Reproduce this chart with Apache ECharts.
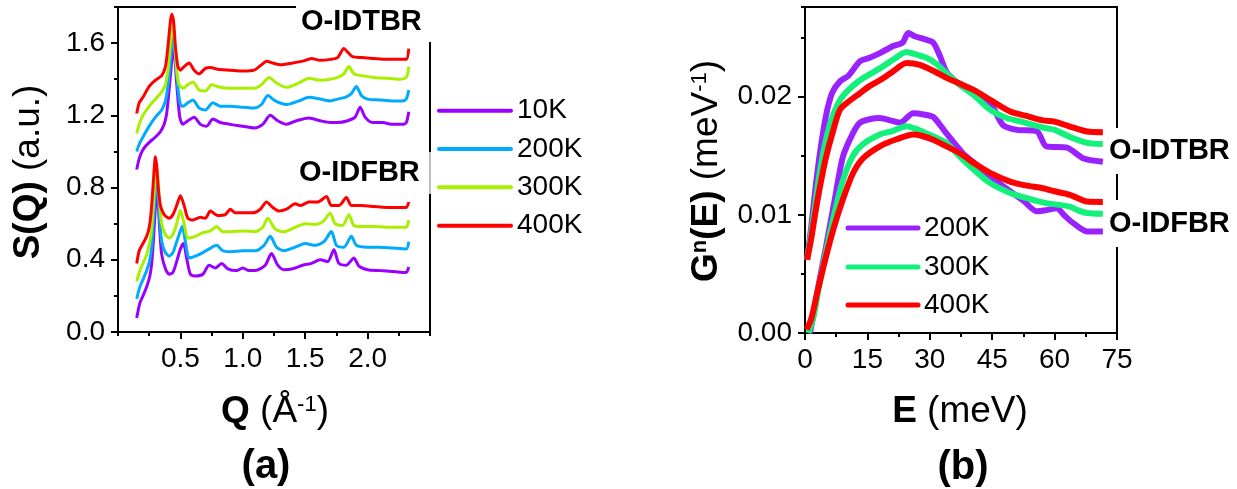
<!DOCTYPE html>
<html><head><meta charset="utf-8">
<script src="https://cdn.jsdelivr.net/npm/echarts@6/dist/echarts.min.js"></script>
<style>html,body{margin:0;padding:0;background:#fff}#c{width:1237px;height:489px}</style>
</head><body><div id="c"></div>
<script>
// ---------- Panel (a): S(Q) vs Q ----------
const tbrLegend = ['10K', '200K', '300K', '400K'];
const tbr10K = [[0.15,0.90],[0.17,0.96],[0.20,1.01],[0.25,1.05],[0.30,1.08],[0.34,1.11],[0.37,1.15],[0.39,1.21],[0.415,1.38],[0.445,1.58],[0.47,1.38],[0.495,1.19],[0.52,1.15],[0.56,1.17],[0.61,1.19],[0.66,1.15],[0.71,1.14],[0.76,1.18],[0.82,1.16],[0.90,1.15],[1.00,1.14],[1.09,1.13],[1.16,1.15],[1.22,1.20],[1.28,1.17],[1.35,1.15],[1.43,1.17],[1.53,1.185],[1.62,1.17],[1.70,1.16],[1.76,1.16],[1.84,1.17],[1.90,1.19],[1.94,1.245],[1.98,1.19],[2.04,1.16],[2.12,1.16],[2.20,1.15],[2.28,1.15],[2.31,1.16],[2.33,1.22]];
const tbr200K = [[0.15,1.00],[0.17,1.04],[0.20,1.08],[0.25,1.14],[0.30,1.19],[0.35,1.23],[0.38,1.28],[0.40,1.36],[0.42,1.50],[0.44,1.65],[0.46,1.52],[0.48,1.35],[0.50,1.26],[0.52,1.25],[0.56,1.27],[0.60,1.285],[0.65,1.24],[0.70,1.23],[0.76,1.27],[0.82,1.25],[0.90,1.25],[1.00,1.245],[1.09,1.24],[1.15,1.26],[1.20,1.31],[1.26,1.28],[1.35,1.26],[1.45,1.28],[1.53,1.30],[1.62,1.29],[1.70,1.28],[1.76,1.29],[1.82,1.30],[1.87,1.32],[1.91,1.36],[1.95,1.31],[2.00,1.29],[2.10,1.285],[2.20,1.28],[2.28,1.28],[2.31,1.29],[2.33,1.34]];
const tbr300K = [[0.15,1.10],[0.17,1.15],[0.20,1.20],[0.25,1.25],[0.30,1.29],[0.35,1.33],[0.38,1.37],[0.40,1.45],[0.42,1.60],[0.44,1.70],[0.455,1.60],[0.47,1.45],[0.49,1.37],[0.52,1.35],[0.56,1.37],[0.60,1.385],[0.65,1.34],[0.70,1.335],[0.75,1.37],[0.82,1.355],[0.90,1.35],[1.00,1.35],[1.09,1.35],[1.15,1.37],[1.21,1.41],[1.27,1.38],[1.35,1.355],[1.45,1.38],[1.53,1.405],[1.62,1.395],[1.70,1.40],[1.76,1.41],[1.81,1.43],[1.85,1.47],[1.89,1.43],[1.95,1.42],[2.05,1.41],[2.15,1.405],[2.25,1.40],[2.31,1.41],[2.33,1.47]];
const tbr400K = [[0.15,1.21],[0.17,1.27],[0.20,1.30],[0.25,1.36],[0.30,1.395],[0.35,1.42],[0.38,1.47],[0.40,1.58],[0.42,1.72],[0.43,1.76],[0.445,1.72],[0.46,1.58],[0.48,1.47],[0.50,1.45],[0.53,1.47],[0.57,1.49],[0.61,1.45],[0.65,1.43],[0.70,1.46],[0.74,1.465],[0.80,1.455],[0.90,1.45],[1.00,1.445],[1.09,1.45],[1.15,1.48],[1.19,1.50],[1.24,1.49],[1.30,1.48],[1.40,1.49],[1.48,1.50],[1.55,1.515],[1.62,1.505],[1.70,1.51],[1.76,1.52],[1.81,1.57],[1.84,1.55],[1.88,1.525],[1.95,1.52],[2.05,1.515],[2.15,1.51],[2.25,1.51],[2.31,1.51],[2.33,1.57]];
const fbr10K = [[0.15,0.077],[0.175,0.16],[0.20,0.20],[0.23,0.25],[0.255,0.31],[0.27,0.38],[0.285,0.52],[0.30,0.70],[0.31,0.80],[0.32,0.74],[0.335,0.56],[0.35,0.43],[0.38,0.35],[0.41,0.32],[0.44,0.33],[0.47,0.39],[0.50,0.46],[0.525,0.49],[0.55,0.41],[0.58,0.32],[0.62,0.31],[0.68,0.32],[0.73,0.37],[0.78,0.355],[0.83,0.38],[0.88,0.35],[0.95,0.34],[1.00,0.355],[1.05,0.34],[1.10,0.34],[1.18,0.37],[1.23,0.435],[1.28,0.37],[1.33,0.345],[1.40,0.35],[1.48,0.37],[1.55,0.38],[1.62,0.40],[1.68,0.39],[1.73,0.455],[1.77,0.38],[1.83,0.37],[1.89,0.41],[1.93,0.365],[2.00,0.345],[2.10,0.34],[2.20,0.335],[2.28,0.33],[2.31,0.33],[2.33,0.36]];
const fbr200K = [[0.15,0.184],[0.175,0.25],[0.20,0.29],[0.23,0.34],[0.255,0.40],[0.27,0.47],[0.285,0.62],[0.30,0.80],[0.31,0.85],[0.32,0.78],[0.335,0.62],[0.35,0.50],[0.38,0.44],[0.41,0.42],[0.44,0.44],[0.47,0.50],[0.50,0.56],[0.515,0.584],[0.54,0.50],[0.57,0.41],[0.62,0.42],[0.68,0.44],[0.73,0.46],[0.79,0.48],[0.84,0.45],[0.90,0.445],[1.00,0.45],[1.10,0.45],[1.17,0.48],[1.22,0.53],[1.27,0.47],[1.33,0.45],[1.42,0.47],[1.50,0.49],[1.58,0.48],[1.65,0.50],[1.71,0.556],[1.75,0.48],[1.81,0.47],[1.87,0.53],[1.91,0.48],[2.00,0.47],[2.10,0.47],[2.20,0.465],[2.31,0.46],[2.33,0.50]];
const fbr300K = [[0.15,0.28],[0.175,0.34],[0.20,0.38],[0.23,0.43],[0.255,0.50],[0.27,0.58],[0.285,0.72],[0.30,0.88],[0.31,0.91],[0.32,0.85],[0.335,0.70],[0.35,0.60],[0.38,0.54],[0.41,0.52],[0.44,0.54],[0.47,0.60],[0.50,0.673],[0.53,0.60],[0.56,0.52],[0.62,0.53],[0.68,0.55],[0.74,0.56],[0.79,0.585],[0.84,0.555],[0.90,0.555],[1.00,0.56],[1.10,0.555],[1.16,0.58],[1.20,0.63],[1.26,0.57],[1.33,0.555],[1.42,0.58],[1.50,0.60],[1.58,0.595],[1.64,0.61],[1.70,0.658],[1.74,0.60],[1.80,0.59],[1.85,0.65],[1.89,0.59],[1.95,0.585],[2.05,0.585],[2.15,0.58],[2.25,0.58],[2.31,0.58],[2.33,0.62]];
const fbr400K = [[0.15,0.38],[0.17,0.45],[0.20,0.49],[0.23,0.53],[0.25,0.58],[0.265,0.66],[0.28,0.80],[0.295,0.95],[0.30,0.97],[0.31,0.92],[0.325,0.78],[0.34,0.70],[0.37,0.65],[0.41,0.63],[0.44,0.65],[0.47,0.70],[0.50,0.755],[0.53,0.70],[0.56,0.63],[0.60,0.62],[0.66,0.635],[0.70,0.63],[0.74,0.67],[0.80,0.645],[0.86,0.65],[0.90,0.68],[0.94,0.66],[1.00,0.66],[1.08,0.66],[1.14,0.68],[1.19,0.72],[1.24,0.69],[1.29,0.67],[1.35,0.68],[1.42,0.71],[1.46,0.70],[1.53,0.72],[1.60,0.72],[1.67,0.75],[1.71,0.70],[1.77,0.70],[1.83,0.745],[1.87,0.70],[1.95,0.70],[2.05,0.695],[2.15,0.69],[2.25,0.69],[2.31,0.69],[2.33,0.72]];
const qTicks = [0.5, 1.0, 1.5, 2.0];
const sTicks = [0, 0.4, 0.8, 1.2, 1.6];

// ---------- Panel (b): G^n(E) vs E ----------
const gLegend = ['200K', '300K', '400K'];
const gTbr200K = [[0.5,0.0062],[1.5,0.0090],[2.5,0.0122],[3.5,0.0150],[5,0.0183],[6.5,0.0203],[8.4,0.0213],[10.5,0.0218],[13.2,0.0230],[15.5,0.0233],[18,0.0237],[21.2,0.0243],[23.5,0.0246],[24.8,0.0254],[26.5,0.0251],[28.5,0.0249],[30.8,0.0246],[32.5,0.0234],[34,0.0221],[37.3,0.0210],[41,0.0203],[44.5,0.0195],[47.6,0.0176],[51,0.0172],[55.7,0.0171],[58,0.0158],[63,0.0157],[66.8,0.0148],[71.6,0.0145]];
const gTbr300K = [[0.5,0.0062],[1.5,0.0085],[2.5,0.0110],[3.5,0.0135],[5,0.0163],[6.5,0.0182],[8.4,0.0197],[10.5,0.0206],[13.2,0.0214],[15.5,0.0219],[18,0.0224],[21,0.0231],[24.4,0.0238],[26.5,0.0236],[29.2,0.0233],[31.5,0.0228],[34,0.0220],[37.3,0.0210],[41,0.0200],[44.5,0.0189],[48.5,0.0182],[52,0.0179],[57.2,0.0174],[60,0.0172],[63.7,0.0166],[67.8,0.0161],[71.6,0.0160]];
const gTbr400K = [[0.5,0.0062],[1.5,0.0080],[2.5,0.0102],[3.5,0.0122],[5,0.0148],[6.5,0.0168],[8.4,0.0189],[10.5,0.0196],[13.2,0.0203],[15.5,0.0209],[18,0.0214],[21,0.0221],[24.4,0.02285],[27.6,0.0227],[30.8,0.0222],[34,0.0216],[37.3,0.0211],[40.4,0.0206],[44.5,0.01975],[49.3,0.01875],[53,0.0184],[57.2,0.0180],[60,0.0179],[63.7,0.01748],[67.8,0.01706],[71.6,0.0170]];
const gFbr200K = [[1.2,0.0],[2,0.0015],[3.5,0.0045],[5,0.0072],[7,0.0110],[9.1,0.0149],[11.5,0.0169],[13.2,0.0178],[15.5,0.0181],[18,0.0182],[20.5,0.0180],[22.8,0.0178],[26,0.0186],[28.5,0.0185],[30.8,0.0183],[32.5,0.0176],[34,0.0169],[38,0.0152],[41,0.0143],[44.5,0.01325],[49.3,0.0120],[52.5,0.0112],[55.7,0.0103],[58,0.0104],[60.5,0.01056],[62.5,0.0099],[64.5,0.0093],[67.8,0.0086],[71.6,0.0086]];
const gFbr300K = [[0.8,0.0],[2,0.0013],[3.5,0.0042],[5,0.0068],[7,0.0100],[9,0.0128],[11.5,0.0150],[14,0.0160],[18,0.0168],[21,0.0171],[24.4,0.0175],[26.5,0.0173],[29.2,0.0169],[34,0.0161],[37.3,0.0149],[41,0.0137],[44.5,0.0127],[49.3,0.01186],[53.5,0.0114],[58,0.0110],[63.7,0.0107],[65.5,0.0104],[67.8,0.01016],[71.6,0.0101]];
const gFbr400K = [[0.4,0.0003],[1.5,0.0012],[3,0.0035],[5,0.0064],[7,0.0090],[9,0.0112],[11.5,0.0135],[14,0.0148],[18,0.0158],[22,0.0164],[26,0.0168],[28,0.0167],[30.8,0.01636],[34,0.0158],[37.3,0.0152],[41,0.0143],[44.5,0.01356],[49.3,0.01282],[53,0.0125],[57.2,0.01226],[60,0.0120],[63.7,0.0117],[67.8,0.01113],[71.6,0.0111]];
const eTicks = [0, 15, 30, 45, 60, 75];
const gTicks = [0, 0.01, 0.02];

// ---------- styling ----------
const F = '"Liberation Sans", Arial, Helvetica, sans-serif';
const colA = ['#9a00ff', '#00aaff', '#a8f000', '#ff0000'];
const colB = ['#9a22ff', '#14f07c', '#ff0000'];
const TICK_FS = 28;

function mainAxis(gridIndex, min, max, interval, labelVals, fmt, extra) {
  return Object.assign({
    type: 'value', gridIndex, min, max, interval,
    axisLine: { show: true, onZero: false, lineStyle: { color: '#000', width: 2 } },
    axisTick: { show: true, inside: false, length: 7, lineStyle: { color: '#000', width: 2 }, customValues: labelVals },
    axisLabel: { color: '#000', fontSize: TICK_FS, fontFamily: F, formatter: fmt, customValues: labelVals, margin: 13, showMinLabel: true, showMaxLabel: true },
    splitLine: { show: false }
  }, extra || {});
}
function minorAxis(gridIndex, min, max, interval, extra) {
  return Object.assign({
    type: 'value', gridIndex, min, max, interval,
    axisLine: { show: false },
    axisTick: { show: true, inside: false, length: 4, lineStyle: { color: '#000', width: 2 } },
    axisLabel: { show: false },
    splitLine: { show: false }
  }, extra || {});
}

const lineSeries = (name, data, color, xi, yi, w) => ({
  type: 'line', name, data, xAxisIndex: xi, yAxisIndex: yi,
  showSymbol: false, symbol: 'none', smooth: 0.25,
  lineStyle: { color, width: w }, itemStyle: { color }, z: 3, silent: true, animation: false
});

const series = [
  lineSeries(tbrLegend[0], fbr10K, colA[0], 0, 0, 3),
  lineSeries(tbrLegend[1], fbr200K, colA[1], 0, 0, 3),
  lineSeries(tbrLegend[2], fbr300K, colA[2], 0, 0, 3),
  lineSeries(tbrLegend[3], fbr400K, colA[3], 0, 0, 3),
  lineSeries(tbrLegend[0], tbr10K, colA[0], 0, 0, 3),
  lineSeries(tbrLegend[1], tbr200K, colA[1], 0, 0, 3),
  lineSeries(tbrLegend[2], tbr300K, colA[2], 0, 0, 3),
  lineSeries(tbrLegend[3], tbr400K, colA[3], 0, 0, 3),
  lineSeries(gLegend[0], gTbr200K, colB[0], 2, 2, 6),
  lineSeries(gLegend[1], gTbr300K, colB[1], 2, 2, 6),
  lineSeries(gLegend[2], gTbr400K, colB[2], 2, 2, 6),
  lineSeries(gLegend[0], gFbr200K, colB[0], 2, 2, 6),
  lineSeries(gLegend[1], gFbr300K, colB[1], 2, 2, 6),
  lineSeries(gLegend[2], gFbr400K, colB[2], 2, 2, 6)
];

// graphic: masks, labels, legends, axis titles
const graphic = [];
const mask = (x, y, w, h, op) => graphic.push({ type: 'rect', z: 50, shape: { x, y, width: w, height: h }, style: { fill: op ? 'rgba(255,255,255,' + op + ')' : '#fff' } });
mask(296, 0, 150, 42);
mask(296, 152, 138, 42, 0.75);
mask(1105, 128, 132, 46);
mask(1105, 200, 132, 47);
const label = (x, y, text, size, bold) => graphic.push({ type: 'text', z: 60, x, y, style: { text, fill: '#000', fontSize: size, fontWeight: bold ? 'bold' : 'normal', fontFamily: F, align: 'left', verticalAlign: 'middle' } });
label(301, 22, 'O-IDTBR', 29, true);
label(299, 173, 'O-IDFBR', 29, true);
label(1109, 151, 'O-IDTBR', 29, true);
label(1109, 224, 'O-IDFBR', 29, true);
// legends
const legA_y = [110.7, 149, 187.3, 225.7];
tbrLegend.forEach((n, i) => {
  graphic.push({ type: 'line', z: 60, shape: { x1: 439, y1: legA_y[i], x2: 511, y2: legA_y[i] }, style: { stroke: colA[i], lineWidth: 4, lineCap: 'round' } });
  label(517, legA_y[i], n, 28, false);
});
const legB_y = [228, 267, 305];
gLegend.forEach((n, i) => {
  graphic.push({ type: 'line', z: 60, shape: { x1: 848, y1: legB_y[i], x2: 918, y2: legB_y[i] }, style: { stroke: colB[i], lineWidth: 5, lineCap: 'round' } });
  label(924, legB_y[i], n, 28, false);
});
// axis titles
const rich = {
  b: { fontSize: 37, fontWeight: 'bold', fontFamily: F, fill: '#000' },
  n: { fontSize: 37, fontFamily: F, fill: '#000' },
  s: { fontSize: 22, fontFamily: F, fill: '#000', verticalAlign: 'top' },
  bs: { fontSize: 22, fontWeight: 'bold', fontFamily: F, fill: '#000', verticalAlign: 'top' },
  p: { fontSize: 40, fontWeight: 'bold', fontFamily: F, fill: '#000' }
};
const title = (x, y, text, rot) => graphic.push({ type: 'text', z: 60, x, y, rotation: rot || 0, style: { text, fontSize: 37, fontFamily: F, fill: '#000', align: 'center', verticalAlign: 'middle', rich } });
title(29, 172, '{b|S(Q)} {n|(a.u.)}', Math.PI / 2);
title(275, 412, '{b|Q} {n|(Å}{s|-1}{n|)}');
title(266, 467, '{p|(a)}');
title(707, 171, '{b|G}{bs|n}{b|(E)} {n|(meV}{s|-1}{n|)}', Math.PI / 2);
title(960, 412, '{b|E} {n|(meV)}');
title(963, 468, '{p|(b)}');

const option = {
  animation: false,
  backgroundColor: '#fff',
  grid: [
    { left: 118, top: 7, width: 312, height: 325, show: true, borderColor: '#000', borderWidth: 2, backgroundColor: 'transparent' },
    { left: 805, top: 7, width: 312, height: 326, show: true, borderColor: '#000', borderWidth: 2, backgroundColor: 'transparent' }
  ],
  xAxis: [
    mainAxis(0, 0, 2.5, 0.5, qTicks, v => v.toFixed(1), { position: 'bottom' }),
    minorAxis(0, 0, 2.5, 0.25, { position: 'bottom' }),
    mainAxis(1, 0, 75, 15, eTicks, v => String(Math.round(v)), { position: 'bottom' }),
    minorAxis(1, 0, 75, 7.5, { position: 'bottom' })
  ],
  yAxis: [
    mainAxis(0, 0, 1.8, 0.4, sTicks, v => v.toFixed(1), { position: 'left' }),
    minorAxis(0, 0, 1.8, 0.2, { position: 'left' }),
    mainAxis(1, 0, 0.0276, 0.01, gTicks, v => v.toFixed(2), { position: 'left' }),
    minorAxis(1, 0, 0.0276, 0.005, { position: 'left' })
  ],
  series,
  graphic: { elements: graphic }
};
const chart = echarts.init(document.getElementById('c'), null, { renderer: 'canvas' });
chart.setOption(option);
</script></body></html>
